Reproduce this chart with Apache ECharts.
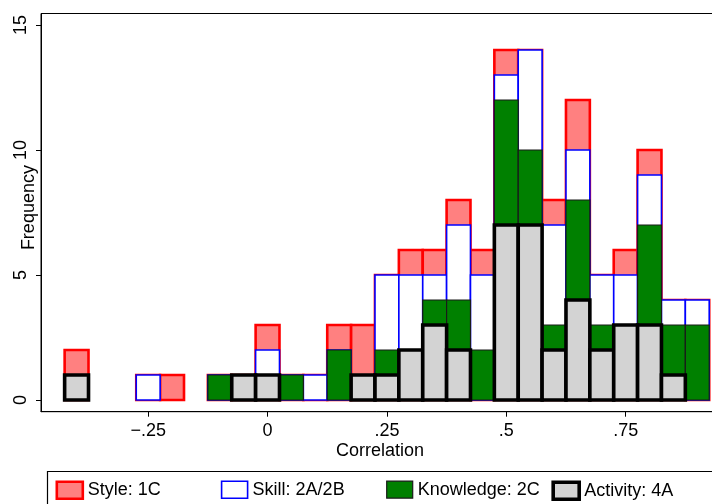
<!DOCTYPE html>
<html>
<head>
<meta charset="utf-8">
<script src="https://cdn.jsdelivr.net/npm/echarts@6/dist/echarts.min.js"></script>
<style>
  html, body { margin: 0; padding: 0; background: #ffffff; }
  #chart { width: 712px; height: 504px; }
</style>
</head>
<body>
<div id="chart"></div>
<script>
// Histogram bins: centres every .05, each bin .05 wide
const binCenters = [-0.40, -0.35, -0.30, -0.25, -0.20, -0.15, -0.10, -0.05, 0.00,
                    0.05, 0.10, 0.15, 0.20, 0.25, 0.30, 0.35, 0.40, 0.45,
                    0.50, 0.55, 0.60, 0.65, 0.70, 0.75, 0.80, 0.85, 0.90];
const binWidth = 0.05;

// Bar heights of each overlaid histogram (frequency per bin)
const styleFreq     = [2, 0, 0, 1, 1, 0, 1, 1, 3, 1, 1, 3, 3, 5, 6, 6, 8, 6, 14, 14, 8, 12, 5, 6, 10, 4, 4];
const skillFreq     = [1, 0, 0, 1, 0, 0, 1, 1, 2, 1, 1, 2, 1, 5, 5, 5, 7, 5, 13, 14, 7, 10, 5, 5, 9, 4, 4];
const knowledgeFreq = [1, 0, 0, 0, 0, 0, 1, 1, 1, 1, 0, 2, 1, 2, 2, 4, 4, 2, 12, 10, 3, 8, 3, 3, 7, 3, 3];
const activityFreq  = [1, 0, 0, 0, 0, 0, 0, 1, 1, 0, 0, 0, 1, 1, 2, 3, 2, 0, 7, 7, 2, 4, 2, 3, 3, 1, 0];

const seriesNames = ['Style: 1C', 'Skill: 2A/2B', 'Knowledge: 2C', 'Activity: 4A'];

// Axis ticks
const xTickValues = [-0.25, 0, 0.25, 0.5, 0.75];
const xTickLabels = ['\u2212.25', '0', '.25', '.5', '.75'];
const yTickValues = [0, 5, 10, 15];
const yTickLabels = ['0', '5', '10', '15'];

const FONT = "'Liberation Sans', Arial, Helvetica, sans-serif";
const FONT_SIZE = 18;

const looks = [
  { fill: '#ff8080', stroke: '#ff0000', lineWidth: 2.6 },
  { fill: '#ffffff', stroke: '#0000ff', lineWidth: 1.6 },
  { fill: '#008000', stroke: '#1a1a1a', lineWidth: 1.2 },
  { fill: '#d3d3d3', stroke: '#000000', lineWidth: 3.6 }
];
const allFreq = [styleFreq, skillFreq, knowledgeFreq, activityFreq];

function histSeries(idx) {
  const look = looks[idx];
  return {
    type: 'custom',
    name: seriesNames[idx],
    data: binCenters.map((c, i) => [c, allFreq[idx][i]]),
    encode: { x: 0, y: 1 },
    itemStyle: { color: look.fill, borderColor: look.stroke, borderWidth: look.lineWidth },
    renderItem: function (params, api) {
      const c = api.value(0);
      const v = api.value(1);
      if (!v) return null;
      const topLeft = api.coord([c - binWidth / 2, v]);
      const bottomRight = api.coord([c + binWidth / 2, 0]);
      return {
        type: 'rect',
        shape: {
          x: topLeft[0], y: topLeft[1],
          width: bottomRight[0] - topLeft[0],
          height: bottomRight[1] - topLeft[1]
        },
        style: { fill: look.fill, stroke: look.stroke, lineWidth: look.lineWidth }
      };
    }
  };
}

// One legend block per column so the keys sit in evenly spaced columns
const legendLefts = [55.5, 220.8, 386.1, 551.4];
const legends = seriesNames.map((name, i) => ({
  data: [{
    name: name,
    icon: 'rect',
    itemStyle: { color: looks[i].fill, borderColor: looks[i].stroke, borderWidth: looks[i].lineWidth }
  }],
  left: legendLefts[i],
  top: 480.5,
  padding: 0,
  itemWidth: 26,
  itemHeight: 17,
  selectedMode: false,
  textStyle: { fontFamily: FONT, fontSize: FONT_SIZE, color: '#000' }
}));

const chart = echarts.init(document.getElementById('chart'), null, { renderer: 'canvas' });
chart.setOption({
  animation: false,
  backgroundColor: '#ffffff',
  textStyle: { fontFamily: FONT },
  grid: {
    left: 41, top: 13.5, width: 678, height: 398.2,
    outerBoundsMode: 'none',
    containLabel: false,
    show: true, borderColor: '#000', borderWidth: 1, backgroundColor: '#fff'
  },
  xAxis: {
    type: 'value',
    min: -0.4745, max: 0.9455,
    name: 'Correlation',
    nameLocation: 'middle',
    nameGap: 30,
    nameMoveOverlap: false,
    nameTextStyle: { fontFamily: FONT, fontSize: FONT_SIZE, color: '#000' },
    axisLine: { show: true, onZero: false, lineStyle: { color: '#000', width: 1 } },
    axisTick: { show: true, customValues: xTickValues, length: 5, lineStyle: { color: '#000', width: 1 } },
    axisLabel: {
      customValues: xTickValues,
      margin: 10,
      fontFamily: FONT, fontSize: FONT_SIZE, color: '#000',
      formatter: v => xTickLabels[xTickValues.indexOf(v)]
    },
    splitLine: { show: false }
  },
  yAxis: {
    type: 'value',
    min: -0.468, max: 15.46,
    name: 'Frequency',
    nameLocation: 'middle',
    nameRotate: 90,
    nameGap: 3,
    nameMoveOverlap: false,
    nameTextStyle: { fontFamily: FONT, fontSize: FONT_SIZE, color: '#000', padding: [0, 0, 0, 10] },
    axisLine: { show: true, onZero: false, lineStyle: { color: '#000', width: 1 } },
    axisTick: { show: true, customValues: yTickValues, length: 5, lineStyle: { color: '#000', width: 1 } },
    axisLabel: {
      customValues: yTickValues,
      rotate: 90,
      margin: 11,
      fontFamily: FONT, fontSize: FONT_SIZE, color: '#000',
      formatter: v => yTickLabels[yTickValues.indexOf(v)]
    },
    splitLine: { show: false }
  },
  legend: legends,
  graphic: [{
    type: 'rect',
    z: -1,
    shape: { x: 47.5, y: 471.5, width: 666, height: 40 },
    style: { fill: 'none', stroke: '#000', lineWidth: 1.2 }
  }],
  series: [histSeries(0), histSeries(1), histSeries(2), histSeries(3)]
});
</script>
</body>
</html>
